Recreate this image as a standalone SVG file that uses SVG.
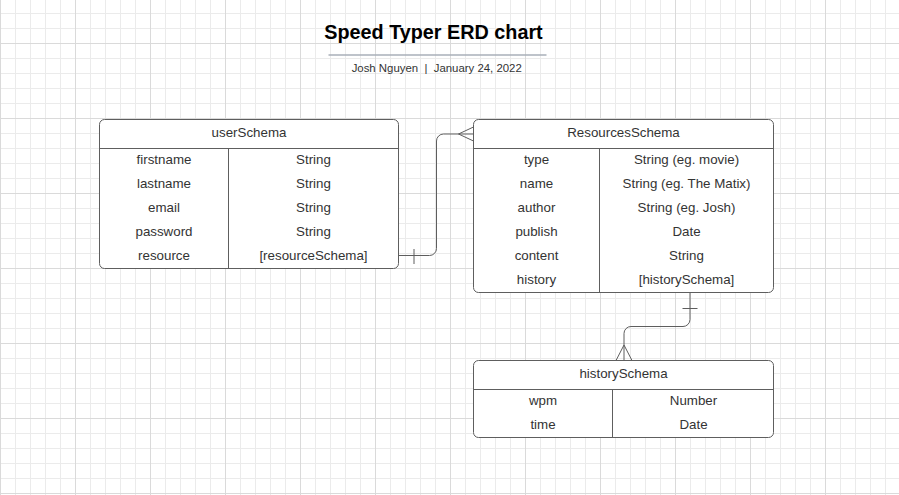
<svg xmlns="http://www.w3.org/2000/svg" width="899" height="495" viewBox="0 0 899 495">
  <defs>
    <pattern id="minor" patternUnits="userSpaceOnUse" x="0" y="13" width="15" height="15">
      <path d="M0.5,0 V15 M0,0.5 H15" stroke="#ebebeb" stroke-width="1" fill="none"/>
    </pattern>
    <pattern id="major" patternUnits="userSpaceOnUse" x="0" y="43" width="75" height="75">
      <path d="M0.5,0 V75 M0,0.5 H75" stroke="#dadada" stroke-width="1" fill="none"/>
    </pattern>
  </defs>
  <style>
    .box { fill: #ffffff; stroke: #5e5e5e; stroke-width: 1; }
    .div { stroke: #5e5e5e; stroke-width: 1; fill: none; }
    .conn { stroke: #5e5e5e; stroke-width: 1; fill: none; }
    .t { font-family: "Liberation Sans", Arial, sans-serif; font-size: 13.33px; fill: #333333; text-anchor: middle; }
    .title { font-family: "Liberation Sans", Arial, sans-serif; font-size: 19.8px; font-weight: bold; fill: #000000; text-anchor: middle; }
    .sub { font-family: "Liberation Sans", Arial, sans-serif; font-size: 11.4px; fill: #333333; text-anchor: middle; white-space: pre; }
  </style>
  <rect x="0" y="0" width="899" height="495" fill="#ffffff"/>
  <rect x="0" y="0" width="899" height="495" fill="url(#minor)"/>
  <rect x="0" y="0" width="899" height="495" fill="url(#major)"/>

  <g id="title">
    <text class="title" x="433.5" y="39">Speed Typer ERD chart</text>
    <line x1="328.5" y1="55" x2="546.5" y2="55" stroke="#a9afb8" stroke-width="1.5"/>
    <text class="sub" x="436.7" y="72" xml:space="preserve">Josh Nguyen  |  January 24, 2022</text>
  </g>

  <g id="userSchema">
    <rect class="box" x="99.5" y="119.5" width="299" height="149" rx="5" ry="5"/>
    <path class="div" d="M99.5,148.5 H398.5 M228.5,148.5 V268.5"/>
    <text class="t" x="249" y="137.3">userSchema</text>
    <text class="t" x="164" y="163.5">firstname</text>
    <text class="t" x="164" y="187.5">lastname</text>
    <text class="t" x="164" y="211.5">email</text>
    <text class="t" x="164" y="235.5">password</text>
    <text class="t" x="164" y="259.5">resource</text>
    <text class="t" x="313.5" y="163.5">String</text>
    <text class="t" x="313.5" y="187.5">String</text>
    <text class="t" x="313.5" y="211.5">String</text>
    <text class="t" x="313.5" y="235.5">String</text>
    <text class="t" x="313.5" y="259.5">[resourceSchema]</text>
  </g>

  <g id="ResourcesSchema">
    <rect class="box" x="473.5" y="119.5" width="300" height="173" rx="5" ry="5"/>
    <path class="div" d="M473.5,148.5 H773.5 M599.5,148.5 V292.5"/>
    <text class="t" x="623.5" y="137.3">ResourcesSchema</text>
    <text class="t" x="536.5" y="163.5">type</text>
    <text class="t" x="536.5" y="187.5">name</text>
    <text class="t" x="536.5" y="211.5">author</text>
    <text class="t" x="536.5" y="235.5">publish</text>
    <text class="t" x="536.5" y="259.5">content</text>
    <text class="t" x="536.5" y="283.5">history</text>
    <text class="t" x="686.5" y="163.5">String (eg. movie)</text>
    <text class="t" x="686.5" y="187.5">String (eg. The Matix)</text>
    <text class="t" x="686.5" y="211.5">String (eg. Josh)</text>
    <text class="t" x="686.5" y="235.5">Date</text>
    <text class="t" x="686.5" y="259.5">String</text>
    <text class="t" x="686.5" y="283.5">[historySchema]</text>
  </g>

  <g id="historySchema">
    <rect class="box" x="473.5" y="360.5" width="300" height="77" rx="5" ry="5"/>
    <path class="div" d="M473.5,389.5 H773.5 M612.5,389.5 V437.5"/>
    <text class="t" x="623.5" y="378.3">historySchema</text>
    <text class="t" x="543" y="405.3">wpm</text>
    <text class="t" x="543" y="429.3">time</text>
    <text class="t" x="693.5" y="405.3">Number</text>
    <text class="t" x="693.5" y="429.3">Date</text>
  </g>

  <g id="connectors">
    <path class="conn" d="M398.5,255.5 H429.5 A7,7 0 0 0 436.5,248.5 V141 A7,7 0 0 1 443.5,134 H473.5"/>
    <path class="conn" d="M414,249 V264"/>
    <path class="conn" d="M473.5,127 L458.5,134 L473.5,141"/>
    <path class="conn" d="M690,292.5 V319.5 A7,7 0 0 1 683,326.5 H631 A7,7 0 0 0 624,333.5 V360.5"/>
    <path class="conn" d="M682.5,308.5 H697.5"/>
    <path class="conn" d="M616,360.5 L624,345 L632,360.5"/>
  </g>
</svg>
